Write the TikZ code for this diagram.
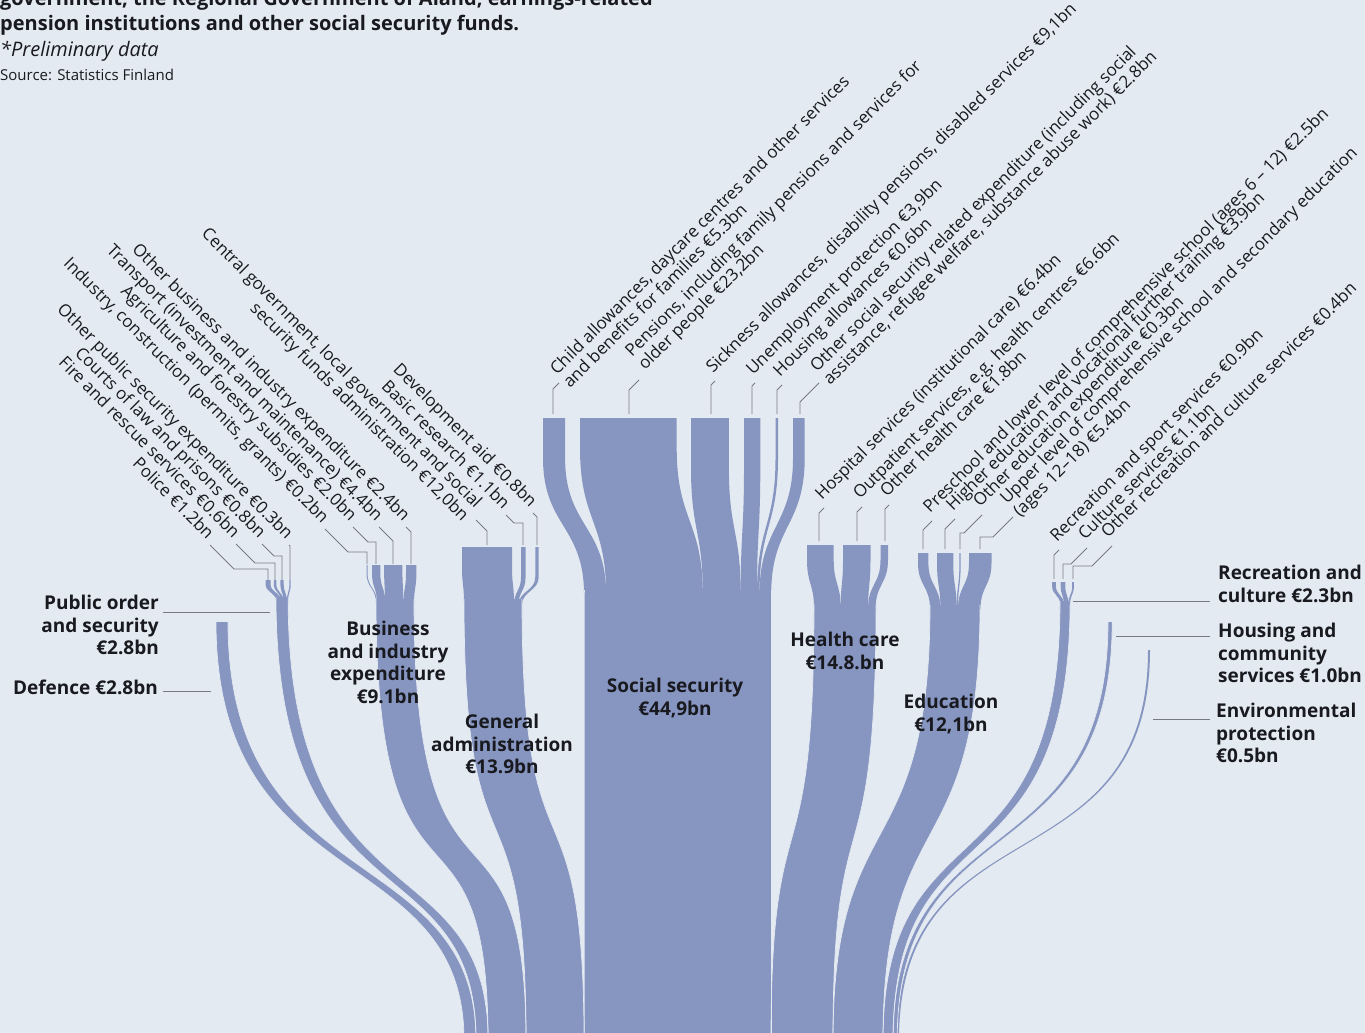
\documentclass[tikz,border=0pt]{standalone}
\usepackage{fontspec}
\setmainfont{Open Sans}
\definecolor{bg}{RGB}{228,234,242}
\definecolor{rib}{RGB}{135,150,193}
\definecolor{ink}{RGB}{25,25,32}
\definecolor{leadc}{RGB}{118,123,134}
\newcommand\labfont{\fontsize{17}{19}\selectfont}
\newcommand\catfont{\fontsize{19}{22.5}\selectfont\bfseries}
\newcommand\titfont{\fontsize{20}{24}\selectfont\bfseries}
% trunk ribbon: x0 y0 x1 y1 ya yb w
\newcommand\RibA[7]{\fill[rib] (#1,#2) .. controls (#1,#5) and (#3,#6) .. (#3,#4) -- ({#3+#7},#4) .. controls ({#3+#7},#6) and ({#1+#7},#5) .. ({#1+#7},#2) -- cycle;}
\newcommand\RibE[7]{\draw[ribsep] (#1,#2) .. controls (#1,#5) and (#3,#6) .. (#3,#4);\draw[ribsep] ({#3+#7},#4) .. controls ({#3+#7},#6) and ({#1+#7},#5) .. ({#1+#7},#2);}
% branch ribbon: xa ya xb yb w s
\newcommand\RibS[6]{\fill[rib] (#1,#2) -- (#1,{#2+#6}) .. controls (#1,{(#2+#6+#4)/2}) and (#3,{(#2+#6+#4)/2}) .. (#3,#4) -- ({#3+#5},#4) .. controls ({#3+#5},{(#2+#6+#4)/2}) and ({#1+#5},{(#2+#6+#4)/2}) .. ({#1+#5},{#2+#6}) -- ({#1+#5},#2) -- cycle;}
\begin{document}
\begin{tikzpicture}[x=1pt,y=-1pt,
  llab/.style={rotate=-45,anchor=base east,inner sep=0pt,font=\labfont,text=ink},
  rlab/.style={rotate=45,anchor=base west,inner sep=0pt,font=\labfont,text=ink},
  cat/.style={inner sep=0pt,font=\catfont,text=ink},
  leader/.style={draw=leadc,line width=0.9pt},
  ribsep/.style={draw=bg,line width=0.7pt}]
\useasboundingbox (0,0) rectangle (1365,1033);
\clip (0,0) rectangle (1365,1033);
\fill[bg] (0,0) rectangle (1365,1033);

% title
\node[anchor=base west,inner sep=0pt,font=\titfont,text=ink] (t0) at (0,6) {government, the Regional Government of Åland, earnings-related};
\node[anchor=base west,inner sep=0pt,font=\titfont,text=ink] (t1) at (0,31) {pension institutions and other social security funds.};
\node[anchor=base west,inner sep=0pt,font=\fontsize{20}{22}\selectfont\itshape,text=ink] (t2) at (0,57) {*Preliminary data};
\node[anchor=base west,inner sep=0pt,font=\fontsize{15}{17}\selectfont,text=ink] (t3) at (0,81) {Source: Statistics Finland};

% ---- branch ribbons
% public order
\RibS{265.5}{580}{276}{601}{5}{4}
\RibS{273.8}{580}{281}{601}{2.5}{4}
\RibS{280.4}{580}{283.5}{601}{3.3}{4}
\RibS{289.4}{580}{286.8}{601}{1.3}{4}
% business
\RibS{366.5}{565}{376}{603}{1}{8}
\RibS{372}{565}{377}{603}{8.3}{8}
\RibS{384}{565}{385.3}{603}{18.3}{8}
\RibS{406}{565}{403.6}{603}{10.4}{8}
% general administration
\RibS{462}{547}{464}{603}{50}{20}
\RibS{521}{547}{514}{605}{4.6}{30}
\RibS{535.3}{547}{518.6}{605}{3.4}{30}
% social security
\RibS{543}{418}{584}{594}{22.1}{40}
\RibS{580}{418}{606.1}{594}{96.7}{30}
\RibS{691}{418}{702.8}{594}{37.9}{50}
\RibS{744}{418}{740.7}{594}{16.3}{50}
\RibS{775.5}{418}{757}{594}{2.5}{40}
\RibS{793}{418}{759.5}{594}{11.7}{40}
% health
\RibS{807}{545}{814}{608}{26.7}{15}
\RibS{843}{545}{840.7}{608}{27.5}{15}
\RibS{880.5}{545}{868.2}{608}{7.5}{15}
% education
\RibS{918}{553}{930}{609}{10.4}{10}
\RibS{937}{553}{940.4}{609}{16.3}{10}
\RibS{959.4}{553}{956.7}{609}{1.3}{10}
\RibS{969}{553}{958}{609}{22.5}{10}
% recreation
\RibS{1052.1}{582}{1060}{604}{3.8}{4}
\RibS{1060.7}{582}{1063.8}{604}{4.6}{4}
\RibS{1072.2}{582}{1068.4}{604}{1.7}{4}

% ---- trunks
\RibA{216}{622}{464}{1040}{900}{840}{12}
\RibA{276}{597}{476}{1040}{930}{840}{12.1}
\RibA{376}{599}{488}{1040}{950}{770}{38}
\RibA{464}{599}{526}{1040}{900}{760}{58}
\RibA{584}{590}{584}{1040}{800}{800}{187.2}
\RibA{814}{604}{771}{1040}{900}{780}{62}
\RibA{930}{605}{833}{1040}{870}{800}{50}
\RibA{1060}{601}{883}{1040}{900}{800}{10.1}
\RibA{1108}{622}{893}{1040}{880}{800}{4.2}
\RibA{1148}{650}{897}{1040}{890}{800}{2}
% separators
\RibE{216}{622}{464}{1040}{900}{840}{12}
\RibE{276}{597}{476}{1040}{930}{840}{12.1}
\RibE{376}{599}{488}{1040}{950}{770}{38}
\RibE{464}{599}{526}{1040}{900}{760}{58}
\RibE{584}{590}{584}{1040}{800}{800}{187.2}
\RibE{814}{604}{771}{1040}{900}{780}{62}
\RibE{930}{605}{833}{1040}{870}{800}{50}
\RibE{1060}{601}{883}{1040}{900}{800}{10.1}
\RibE{1108}{622}{893}{1040}{880}{800}{4.2}

% ---- bar-top coordinates
\coordinate (b1) at (268,580); \coordinate (b2) at (275,580);
\coordinate (b3) at (282,580); \coordinate (b4) at (290,580);
\coordinate (b5) at (367,564); \coordinate (b6) at (376,564);
\coordinate (b7) at (393,564); \coordinate (b8) at (411,564);
\coordinate (b9) at (487,545); \coordinate (b10) at (523,545);
\coordinate (b11) at (537,545);
\coordinate (c1) at (553,414); \coordinate (c2) at (629,414);
\coordinate (c3) at (711,414); \coordinate (c4) at (752,414);
\coordinate (c5) at (777,414); \coordinate (c6) at (800,414);
\coordinate (c7) at (819,541); \coordinate (c8) at (857,541);
\coordinate (c9) at (885,541);
\coordinate (c10) at (923,549); \coordinate (c11) at (945,549);
\coordinate (c12) at (960,549); \coordinate (c13) at (980,549);
\coordinate (c14) at (1054,579); \coordinate (c15) at (1063,579);
\coordinate (c16) at (1073,579);

% ---- left labels
\node[llab] (L1) at (207,540) {Police €1.2bn};
\node[llab] (L2) at (233,539) {Fire and rescue services €0.6bn};
\node[llab] (L3) at (259,539) {Courts of law and prisons €0.8bn};
\node[llab] (L4) at (286,540) {Other public security expenditure €0.3bn};
\node[llab] (L5) at (322,524) {Industry, construction (permits, grants) €0.2bn};
\node[llab] (L6) at (350,522) {Agriculture and forestry subsidies €2.0bn};
\node[llab] (L7) at (376,522) {Transport (investment and maintenance) €4.4bn};
\node[llab] (L8) at (403,522) {Other business and industry expenditure €2.4bn};
\node[llab] (L9a) at (475,509) {Central government, local government and social};
\node[llab] (L9b) at (462,522) {security funds administration €12,0bn};
\node[llab] (L10) at (503,510) {Basic research €1.1bn};
\node[llab] (L11) at (530,508) {Development aid €0.8bn};

\draw[leader] (L1.base east) ++(3,5) -- ++(24,24) -| (b1);
\draw[leader] (L2.base east) ++(3,5) -- ++(19,19) -| (b2);
\draw[leader] (L3.base east) ++(3,5) -- ++(12,12) -| (b3);
\draw[leader] (L4.base east) ++(3,5) -- ++(1,1) -| (b4);
\draw[leader] (L5.base east) ++(3,5) -- ++(23,23) -| (b5);
\draw[leader] (L6.base east) ++(3,5) -- ++(15,15) -| (b6);
\draw[leader] (L7.base east) ++(3,5) -- ++(14,14) -| (b7);
\draw[leader] (L8.base east) ++(3,5) -- ++(5,5) -| (b8);
\draw[leader] (L9b.base east) ++(14,-2) -- ++(11,11) -| (b9);
\draw[leader] (L10.base east) ++(3,5) -- ++(8,8) -| (b10);
\draw[leader] (L11.base east) ++(3,5) -- ++(4,4) -| (b11);

% ---- right labels
\node[rlab] (R1a) at (557,376) {Child allowances, daycare centres and other services};
\node[rlab] (R1b) at (570,389) {and benefits for families €5.3bn};
\node[rlab] (R2a) at (632,358) {Pensions, including family pensions and services for};
\node[rlab] (R2b) at (645,371) {older people €23,2bn};
\node[rlab] (R3) at (713,374) {Sickness allowances, disability pensions, disabled services €9,1bn};
\node[rlab] (R4) at (753,376) {Unemployment protection €3,9bn};
\node[rlab] (R5) at (780,378) {Housing allowances €0.6bn};
\node[rlab] (R6a) at (817,373) {Other social security related expenditure (including social};
\node[rlab] (R6b) at (830,386) {assistance, refugee welfare, substance abuse work) €2.8bn};
\node[rlab] (R7) at (822,501) {Hospital services (institutional care) €6.4bn};
\node[rlab] (R8) at (860,500) {Outpatient services, e.g. health centres €6.6bn};
\node[rlab] (R9) at (887,498) {Other health care €1.8bn};
\node[rlab] (R10) at (930,514) {Preschool and lower level of comprehensive school (ages 6 – 12) €2.5bn};
\node[rlab] (R11) at (953,512) {Higher education and vocational further training €3.9bn};
\node[rlab] (R12) at (980,508) {Other education expenditure €0.3bn};
\node[rlab] (R13a) at (1007,505) {Upper level of comprehensive school and secondary education};
\node[rlab] (R13b) at (1020,518) {(ages 12–18) €5.4bn};
\node[rlab] (R14) at (1057,543) {Recreation and sport services €0.9bn};
\node[rlab] (R15) at (1085,541) {Culture services €1.1bn};
\node[rlab] (R16) at (1108,539) {Other recreation and culture services €0.4bn};

\draw[leader] (R1a.base west) ++(2,7) -- ++(-6,6) -| (c1);
\draw[leader] (R2b.base west) ++(-6,9) -- ++(-10,10) -| (c2);
\draw[leader] (R3.base west) ++(2,7) -- ++(-4,4) -| (c3);
\draw[leader] (R4.base west) ++(2,7) -- ++(-3,3) -| (c4);
\draw[leader] (R5.base west) ++(2,7) -- ++(-5,5) -| (c5);
\draw[leader] (R6a.base west) ++(2,10) -- ++(-19,19) -| (c6);
\draw[leader] (R7.base west) ++(2,7) -- ++(-5,5) -| (c7);
\draw[leader] (R8.base west) ++(2,7) -- ++(-5,5) -| (c8);
\draw[leader] (R9.base west) ++(2,7) -- ++(-4,4) -| (c9);
\draw[leader] (R10.base west) ++(2,7) -- ++(-9,9) -| (c10);
\draw[leader] (R11.base west) ++(2,7) -- ++(-10,10) -| (c11);
\draw[leader] (R12.base west) ++(2,7) -- ++(-18,18) -| (c12);
\draw[leader] (R13a.base west) ++(6,12) -- ++(-20,20) -| (c13);
\draw[leader] (R14.base west) ++(2,7) -- ++(-5,5) -| (c14);
\draw[leader] (R15.base west) ++(2,7) -- ++(-16,16) -| (c15);
\draw[leader] (R16.base west) ++(4,7) -- ++(-20,20) -| (c16);

% ---- category labels
\node[cat,anchor=north east,align=right] (cPO) at (159,595) {Public order\\and security\\€2.8bn};
\node[cat,anchor=north east] (cDef) at (158,680) {Defence €2.8bn};
\node[cat,anchor=north,align=center] (cBus) at (388,621) {Business\\and industry\\expenditure\\€9.1bn};
\node[cat,anchor=north,align=center] (cGen) at (502,714) {General\\administration\\€13.9bn};
\node[cat,anchor=north,align=center] (cSoc) at (675,678) {Social security\\€44,9bn};
\node[cat,anchor=north,align=center] (cHea) at (845,632) {Health care\\€14.8.bn};
\node[cat,anchor=north,align=center] (cEdu) at (951,694) {Education\\€12,1bn};
\node[cat,anchor=north west,align=left] (cRec) at (1218,565) {Recreation and\\culture €2.3bn};
\node[cat,anchor=north west,align=left] (cHou) at (1218,623) {Housing and\\community\\services €1.0bn};
\node[cat,anchor=north west,align=left] (cEnv) at (1216,703) {Environmental\\protection\\€0.5bn};

\coordinate (kPOa) at (163,612); \coordinate (kPOb) at (270,612);
\coordinate (kDefa) at (163,691); \coordinate (kDefb) at (211,691);
\coordinate (kReca) at (1073,601); \coordinate (kRecb) at (1210,601);
\coordinate (kHoua) at (1116,636); \coordinate (kHoub) at (1210,636);
\coordinate (kEnva) at (1153,719); \coordinate (kEnvb) at (1210,719);
\draw[leader] (kPOa) -- (kPOb);
\draw[leader] (kDefa) -- (kDefb);
\draw[leader] (kReca) -- (kRecb);
\draw[leader] (kHoua) -- (kHoub);
\draw[leader] (kEnva) -- (kEnvb);
\end{tikzpicture}
\end{document}
